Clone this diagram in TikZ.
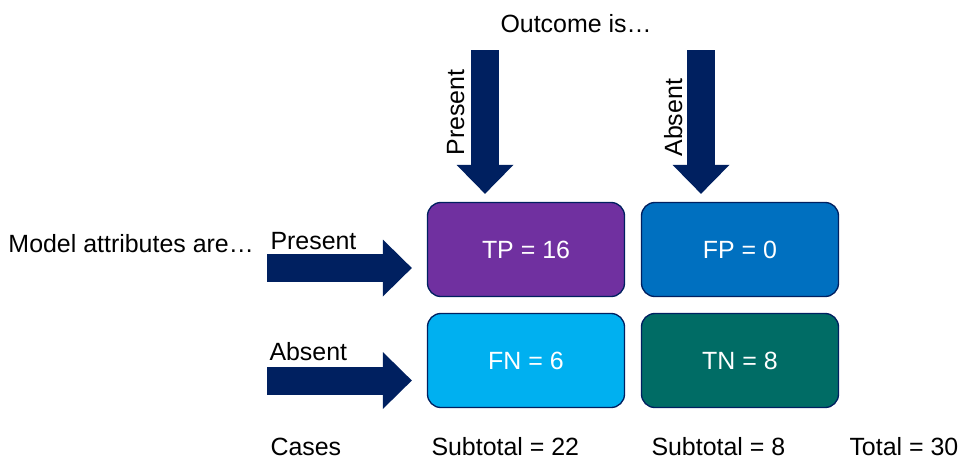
\documentclass[tikz,border=0pt]{standalone}
\usepackage{fontspec}
\setmainfont{Liberation Sans}
\usetikzlibrary{arrows.meta}

\definecolor{navy}{HTML}{002060}
\definecolor{tpcol}{HTML}{7030A0}
\definecolor{fpcol}{HTML}{0070C0}
\definecolor{fncol}{HTML}{00B0F0}
\definecolor{tncol}{HTML}{006C65}

\tikzset{every picture/.style={line width=0.75pt}}

\begin{document}
\begin{tikzpicture}[x=0.75pt,y=0.75pt,yscale=-1,xscale=1,
	txt/.style={inner sep=0pt, font=\fontsize{18.7}{22}\selectfont},
	cell/.style={draw=navy, line width=1pt, rounded corners=10pt, minimum width=147.75pt, minimum height=70.5pt, inner sep=0pt, text=white, font=\fontsize{18.7}{22}\selectfont},
	bigarrow/.style={draw=navy, line width=21pt, -{Triangle[length=21.75pt,width=42.75pt,line width=0pt]}}]
		\useasboundingbox (0,0) rectangle (961,462);
		
		%Boxes of the matrix
		\node [cell, fill=tpcol] (tp) at (526,249.5) {TP = 16};
		\node [cell, fill=fpcol] (fp) at (740,249.5) {FP = 0};
		\node [cell, fill=fncol] (fn) at (526,360.5) {FN = 6};
		\node [cell, fill=tncol] (tn) at (740,360.5) {TN = 8};
		
		%Arrows from above
		\coordinate (prestail) at (485,50);
		\coordinate (abstail) at (701,50);
		\draw [bigarrow, shorten >=6pt] (prestail) -- (prestail |- tp.north);
		\draw [bigarrow, shorten >=6pt] (abstail) -- (abstail |- fp.north);
		
		%Arrows from the left
		\coordinate (rowpres) at (267,268);
		\coordinate (rowabs) at (267,380.5);
		\draw [bigarrow, shorten >=11.25pt] (rowpres) -- (rowpres -| tp.west);
		\draw [bigarrow, shorten >=11.25pt] (rowabs) -- (rowabs -| fn.west);
		
		\node [txt, anchor=base west] (outcome) at (500,32) {Outcome is…};
		\node [txt, anchor=base west] (modelattr) at (8,252) {Model attributes are…};
		\node [txt, anchor=base west] (colpres) at (270,249) {Present};
		\node [txt, anchor=base west] (colabs) at (269,360) {Absent};
		\node [txt, rotate=90, anchor=base west] (toppres) at (464,156) {Present};
		\node [txt, rotate=90, anchor=base west] (topabs) at (682,157) {Absent};
		\node [txt, anchor=base west] (cases) at (270,455) {Cases};
		\node [txt, anchor=base west] (subpos) at (431,455) {Subtotal = 22};
		\node [txt, anchor=base west] (subneg) at (651,455) {Subtotal = 8};
		\node [txt, anchor=base west] (total) at (849,455) {Total = 30};
		
	\end{tikzpicture}
\end{document}
